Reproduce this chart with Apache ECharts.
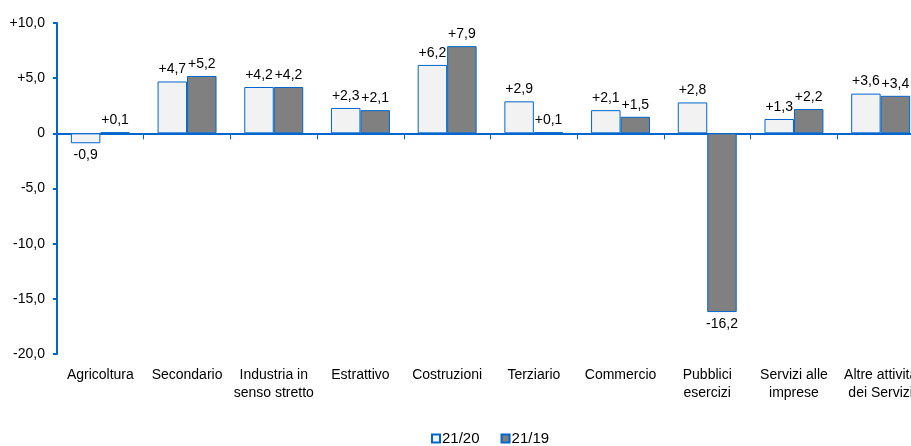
<!DOCTYPE html>
<html><head><meta charset="utf-8">
<script src="https://cdn.jsdelivr.net/npm/echarts@6/dist/echarts.min.js"></script>
<style>html,body{margin:0;padding:0;background:#fff;overflow:hidden;width:911px;height:446px}#c{width:924px;height:446px}</style>
</head><body><div id="c"></div>
<script>
const categories = ["Agricoltura","Secondario","Industria in\nsenso stretto","Estrattivo","Costruzioni","Terziario","Commercio","Pubblici\nesercizi","Servizi alle\nimprese","Altre attività\ndei Servizi"];
const s2120 = [-0.9, 4.7, 4.2, 2.3, 6.2, 2.9, 2.1, 2.8, 1.3, 3.6];
const s2119 = [0.1, 5.2, 4.2, 2.1, 7.9, 0.1, 1.5, -16.2, 2.2, 3.4];
const seriesNames = ["21/20","21/19"];
const yTicks = [-20, -15, -10, -5, 0, 5, 10];

const fmt = v => (v > 0 ? "+" : "") + v.toFixed(1).replace(".", ",");
const yFmt = v => v === 0 ? "0" : fmt(v);
const blue = "#0066CC";
const font = "Liberation Sans, Arial, sans-serif";

const mkLabel = {
  show: true, fontFamily: font, fontSize: 14, color: "#000", distance: 5,
  formatter: p => fmt(p.value)
};
function seriesData(arr){
  return arr.map(v => ({value: v, label: {position: v < 0 ? "bottom" : "top"}}));
}

const chart = echarts.init(document.getElementById("c"), null, {renderer: "canvas"});
chart.setOption({
  animation: false,
  grid: {left: 57, right: 0, top: 23, bottom: 92},
  legend: {
    left: 426, top: 426, itemWidth: 8, itemHeight: 8, itemGap: 21, icon: "rect",
    textStyle: {fontFamily: font, fontSize: 15, color: "#000", padding: [0, 0, 0, -3]},
    data: seriesNames
  },
  xAxis: [
    {type: "category", data: categories, position: "bottom",
     axisLine: {show: false, onZero: false}, axisTick: {show: false},
     axisLabel: {fontFamily: font, fontSize: 14, color: "#000", interval: 0, margin: 12, lineHeight: 18}},
    {type: "category", data: categories, position: "bottom",
     axisLine: {show: true, onZero: true, lineStyle: {color: blue, width: 2}},
     axisTick: {show: true, interval: 0, length: 6, lineStyle: {color: blue, width: 1}},
     axisLabel: {show: false}}
  ],
  yAxis: {
    type: "value", min: yTicks[0], max: yTicks[yTicks.length - 1], interval: 5,
    axisLine: {show: true, lineStyle: {color: blue, width: 2}},
    axisTick: {show: true, length: 4, lineStyle: {color: blue, width: 2}},
    splitLine: {show: false},
    axisLabel: {fontFamily: font, fontSize: 14, color: "#000", margin: 12, formatter: yFmt}
  },
  series: [
    {name: seriesNames[0], type: "bar", xAxisIndex: 0, data: seriesData(s2120),
     barGap: "0%", barCategoryGap: "32%",
     itemStyle: {color: "#F2F2F2", borderColor: blue, borderWidth: 1},
     label: mkLabel},
    {name: seriesNames[1], type: "bar", xAxisIndex: 0, data: seriesData(s2119),
     barGap: "0%", barCategoryGap: "32%",
     itemStyle: {color: "#808080", borderColor: blue, borderWidth: 1},
     label: mkLabel}
  ]
});
</script></body></html>
